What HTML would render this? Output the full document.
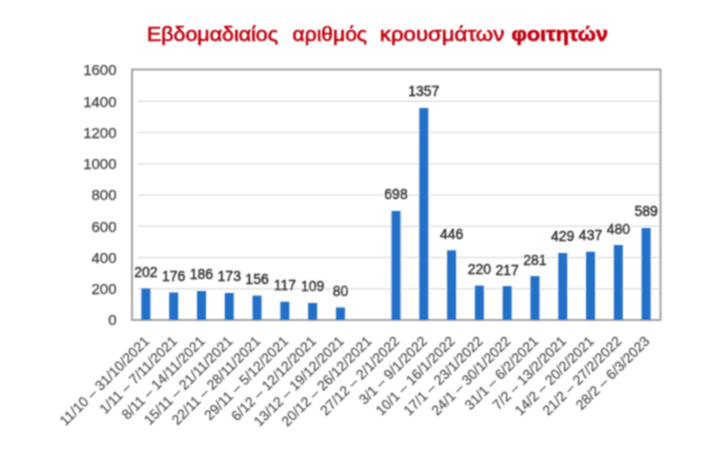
<!DOCTYPE html>
<html><head><meta charset="utf-8"><style>
html,body{margin:0;padding:0;background:#fff;width:720px;height:454px;overflow:hidden}
svg{display:block}
text{font-family:"Liberation Sans",sans-serif}
.dl{font-size:14px;fill:#262626;stroke:#262626;stroke-width:0.35px}
.yl{font-size:15px;fill:#404040;stroke:#404040;stroke-width:0.25px}
.cl{font-size:14px;fill:#444;stroke:#444;stroke-width:0.1px}
.tt{font-size:20px;fill:#c00012;stroke:#c00012;stroke-width:0.6px}
</style></head><body>
<svg width="720" height="454" viewBox="0 0 720 454">
<defs><filter id="bl" x="0" y="0" width="720" height="454" filterUnits="userSpaceOnUse"><feConvolveMatrix order="3" kernelMatrix="1 2 1 2 4 2 1 2 1" divisor="16" edgeMode="none"/></filter></defs>
<rect width="720" height="454" fill="#fff"/>
<g filter="url(#bl)">
<text x="147.0" y="40.8" class="tt" textLength="131.0" lengthAdjust="spacingAndGlyphs">Εβδομαδιαίος</text>
<text x="292.5" y="40.8" class="tt" textLength="74.5" lengthAdjust="spacingAndGlyphs">αριθμός</text>
<text x="379.8" y="40.8" class="tt" textLength="124.5" lengthAdjust="spacingAndGlyphs">κρουσμάτων</text>
<text x="511.5" y="40.8" class="tt" textLength="96.5" lengthAdjust="spacingAndGlyphs" font-weight="bold">φοιτητών</text>
<line x1="137.5" y1="288.75" x2="659" y2="288.75" stroke="#e2e2e2" stroke-width="1.4"/>
<line x1="137.5" y1="257.50" x2="659" y2="257.50" stroke="#e2e2e2" stroke-width="1.4"/>
<line x1="137.5" y1="226.25" x2="659" y2="226.25" stroke="#e2e2e2" stroke-width="1.4"/>
<line x1="137.5" y1="195.00" x2="659" y2="195.00" stroke="#e2e2e2" stroke-width="1.4"/>
<line x1="137.5" y1="163.75" x2="659" y2="163.75" stroke="#e2e2e2" stroke-width="1.4"/>
<line x1="137.5" y1="132.50" x2="659" y2="132.50" stroke="#e2e2e2" stroke-width="1.4"/>
<line x1="137.5" y1="101.25" x2="659" y2="101.25" stroke="#e2e2e2" stroke-width="1.4"/>
<path d="M132.0,320.0 L132.0,69.5 L660.5,69.5 L660.5,320.0" fill="none" stroke="#a4a4a4" stroke-width="2"/>
<line x1="131.0" y1="320.0" x2="661.0" y2="320.0" stroke="#a6a6a6" stroke-width="2"/>
<rect x="141.39" y="288.44" width="9.0" height="31.56" fill="#2270c8"/>
<text x="145.89" y="276.94" class="dl" text-anchor="middle">202</text>
<rect x="169.18" y="292.50" width="9.0" height="27.50" fill="#2270c8"/>
<text x="173.68" y="281.00" class="dl" text-anchor="middle">176</text>
<rect x="196.97" y="290.94" width="9.0" height="29.06" fill="#2270c8"/>
<text x="201.47" y="279.44" class="dl" text-anchor="middle">186</text>
<rect x="224.76" y="292.97" width="9.0" height="27.03" fill="#2270c8"/>
<text x="229.26" y="281.47" class="dl" text-anchor="middle">173</text>
<rect x="252.55" y="295.62" width="9.0" height="24.38" fill="#2270c8"/>
<text x="257.05" y="284.12" class="dl" text-anchor="middle">156</text>
<rect x="280.34" y="301.72" width="9.0" height="18.28" fill="#2270c8"/>
<text x="284.84" y="290.22" class="dl" text-anchor="middle">117</text>
<rect x="308.13" y="302.97" width="9.0" height="17.03" fill="#2270c8"/>
<text x="312.63" y="291.47" class="dl" text-anchor="middle">109</text>
<rect x="335.92" y="307.50" width="9.0" height="12.50" fill="#2270c8"/>
<text x="340.42" y="296.00" class="dl" text-anchor="middle">80</text>
<rect x="391.50" y="210.94" width="9.0" height="109.06" fill="#2270c8"/>
<text x="396.00" y="199.44" class="dl" text-anchor="middle">698</text>
<rect x="419.29" y="107.97" width="9.0" height="212.03" fill="#2270c8"/>
<text x="423.79" y="96.47" class="dl" text-anchor="middle">1357</text>
<rect x="447.08" y="250.31" width="9.0" height="69.69" fill="#2270c8"/>
<text x="451.58" y="238.81" class="dl" text-anchor="middle">446</text>
<rect x="474.87" y="285.62" width="9.0" height="34.38" fill="#2270c8"/>
<text x="479.37" y="274.12" class="dl" text-anchor="middle">220</text>
<rect x="502.66" y="286.09" width="9.0" height="33.91" fill="#2270c8"/>
<text x="507.16" y="274.59" class="dl" text-anchor="middle">217</text>
<rect x="530.45" y="276.09" width="9.0" height="43.91" fill="#2270c8"/>
<text x="534.95" y="264.59" class="dl" text-anchor="middle">281</text>
<rect x="558.24" y="252.97" width="9.0" height="67.03" fill="#2270c8"/>
<text x="562.74" y="241.47" class="dl" text-anchor="middle">429</text>
<rect x="586.03" y="251.72" width="9.0" height="68.28" fill="#2270c8"/>
<text x="590.53" y="240.22" class="dl" text-anchor="middle">437</text>
<rect x="613.82" y="245.00" width="9.0" height="75.00" fill="#2270c8"/>
<text x="618.32" y="233.50" class="dl" text-anchor="middle">480</text>
<rect x="641.61" y="227.97" width="9.0" height="92.03" fill="#2270c8"/>
<text x="646.11" y="216.47" class="dl" text-anchor="middle">589</text>
<text x="116.5" y="325.40" class="yl" text-anchor="end">0</text>
<text x="116.5" y="294.15" class="yl" text-anchor="end">200</text>
<text x="116.5" y="262.90" class="yl" text-anchor="end">400</text>
<text x="116.5" y="231.65" class="yl" text-anchor="end">600</text>
<text x="116.5" y="200.40" class="yl" text-anchor="end">800</text>
<text x="116.5" y="169.15" class="yl" text-anchor="end">1000</text>
<text x="116.5" y="137.90" class="yl" text-anchor="end">1200</text>
<text x="116.5" y="106.65" class="yl" text-anchor="end">1400</text>
<text x="116.5" y="75.40" class="yl" text-anchor="end">1600</text>
<text transform="translate(150.19,342) rotate(-45)" class="cl" text-anchor="end">11/10 – 31/10/2021</text>
<text transform="translate(177.98,342) rotate(-45)" class="cl" text-anchor="end">1/11 – 7/11/2021</text>
<text transform="translate(205.77,342) rotate(-45)" class="cl" text-anchor="end">8/11 – 14/11/2021</text>
<text transform="translate(233.56,342) rotate(-45)" class="cl" text-anchor="end">15/11 – 21/11/2021</text>
<text transform="translate(261.35,342) rotate(-45)" class="cl" text-anchor="end">22/11 – 28/11/2021</text>
<text transform="translate(289.14,342) rotate(-45)" class="cl" text-anchor="end">29/11 – 5/12/2021</text>
<text transform="translate(316.93,342) rotate(-45)" class="cl" text-anchor="end">6/12 – 12/12/2021</text>
<text transform="translate(344.72,342) rotate(-45)" class="cl" text-anchor="end">13/12 – 19/12/2021</text>
<text transform="translate(372.51,342) rotate(-45)" class="cl" text-anchor="end">20/12 – 26/12/2021</text>
<text transform="translate(400.30,342) rotate(-45)" class="cl" text-anchor="end">27/12 – 2/1/2022</text>
<text transform="translate(428.09,342) rotate(-45)" class="cl" text-anchor="end">3/1 – 9/1/2022</text>
<text transform="translate(455.88,342) rotate(-45)" class="cl" text-anchor="end">10/1 – 16/1/2022</text>
<text transform="translate(483.67,342) rotate(-45)" class="cl" text-anchor="end">17/1 – 23/1/2022</text>
<text transform="translate(511.46,342) rotate(-45)" class="cl" text-anchor="end">24/1 – 30/1/2022</text>
<text transform="translate(539.25,342) rotate(-45)" class="cl" text-anchor="end">31/1 – 6/2/2021</text>
<text transform="translate(567.04,342) rotate(-45)" class="cl" text-anchor="end">7/2 – 13/2/2021</text>
<text transform="translate(594.83,342) rotate(-45)" class="cl" text-anchor="end">14/2 – 20/2/2021</text>
<text transform="translate(622.62,342) rotate(-45)" class="cl" text-anchor="end">21/2 – 27/2/2022</text>
<text transform="translate(650.41,342) rotate(-45)" class="cl" text-anchor="end">28/2 – 6/3/2023</text>
</g>
</svg>
</body></html>
